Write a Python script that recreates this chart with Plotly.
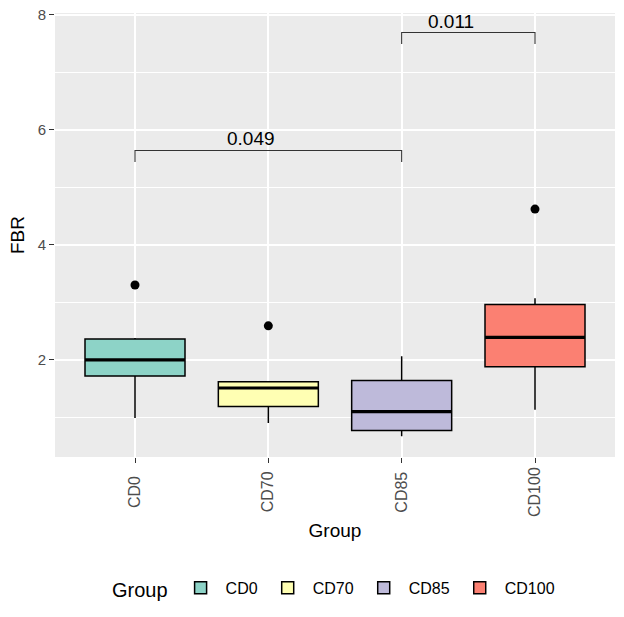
import plotly.graph_objects as go

# ---- data ----
groups = ["CD0", "CD70", "CD85", "CD100"]
q1 = [1.72, 1.19, 0.77, 1.88]
median = [2.00, 1.51, 1.10, 2.39]
q3 = [2.36, 1.62, 1.64, 2.96]
lower_whisker = [0.99, 0.90, 0.67, 1.13]
upper_whisker = [2.38, 1.62, 2.06, 3.07]
outlier_groups = ["CD0", "CD70", "CD100"]
outlier_values = [3.30, 2.59, 4.62]
fill_colors = ["#8DD3C7", "#FFFFB3", "#BEBADA", "#FB8072"]
y_ticks = [2, 4, 6, 8]

# significance comparisons: (group a, group b, bracket height, p label)
comp_a = ["CD0", "CD85"]
comp_b = ["CD85", "CD100"]
comp_y = [5.64, 7.69]
comp_label = ["0.049", "0.011"]

# ---- styling ----
FONT = "Liberation Sans"
BOX_W = 0.75
TICK_DROP = 0.20
pos = {g: i for i, g in enumerate(groups)}

fig = go.Figure()

for i, g in enumerate(groups):
    fig.add_trace(go.Box(
        x=[i], q1=[q1[i]], median=[median[i]], q3=[q3[i]],
        lowerfence=[lower_whisker[i]], upperfence=[upper_whisker[i]],
        name=g, legendgroup=g,
        fillcolor=fill_colors[i],
        line=dict(color="black", width=1.5),
        whiskerwidth=0, width=BOX_W, boxpoints=False,
        hoverinfo="skip",
    ))

# thick median lines (ggplot style)
for i, g in enumerate(groups):
    fig.add_trace(go.Scatter(
        x=[i - BOX_W / 2, i + BOX_W / 2], y=[median[i], median[i]],
        mode="lines", line=dict(color="black", width=3.2),
        showlegend=False, hoverinfo="skip",
    ))

# outliers
fig.add_trace(go.Scatter(
    x=[pos[g] for g in outlier_groups], y=outlier_values,
    mode="markers", marker=dict(color="black", size=9),
    showlegend=False, hoverinfo="skip",
))

# significance brackets
for a, b, yb, lab in zip(comp_a, comp_b, comp_y, comp_label):
    xa, xb = pos[a], pos[b]
    fig.add_trace(go.Scatter(
        x=[xa, xa, xb, xb], y=[yb - TICK_DROP, yb, yb, yb - TICK_DROP],
        mode="lines", line=dict(color="#333333", width=1.1),
        showlegend=False, hoverinfo="skip",
    ))
    fig.add_annotation(
        x=(xa + xb) / 2 - 0.13, y=yb + 0.2, text=lab, showarrow=False,
        xanchor="center", yanchor="middle",
        font=dict(family=FONT, size=19, color="black"),
    )

# rotated category labels, centred under each tick (ggplot angle=90 style)
for i, g in enumerate(groups):
    fig.add_annotation(
        x=i, xref="x", y=-0.0788, yref="paper", text=g, showarrow=False,
        textangle=-90, xanchor="center", yanchor="middle",
        font=dict(family=FONT, size=16, color="#4D4D4D"),
    )

fig.update_layout(
    width=624, height=617,
    margin=dict(l=55, r=9, t=13, b=160, autoexpand=False),
    paper_bgcolor="white", plot_bgcolor="#EBEBEB",
    boxmode="overlay",
    font=dict(family=FONT, size=15, color="#4D4D4D"),
    showlegend=True,
    legend=dict(
        orientation="h", x=0.5, xanchor="center", y=-0.297, yanchor="middle",
        title=dict(text="Group", font=dict(family=FONT, size=20, color="black")),
        font=dict(family=FONT, size=16, color="black"),
        bgcolor="rgba(0,0,0,0)", itemwidth=40,
    ),
)

fig.update_xaxes(
    range=[-0.6, 3.6], automargin=False,
    tickmode="array", tickvals=list(range(len(groups))), ticktext=groups,
    showticklabels=False,
    ticks="outside", ticklen=5, tickcolor="#333333", tickwidth=1.2,
    showgrid=True, gridcolor="white", gridwidth=1.6,
    zeroline=False, showline=False,
    title=dict(text="Group", font=dict(family=FONT, size=19, color="black"), standoff=61),
)

fig.update_yaxes(
    range=[0.31, 8.03], automargin=False,
    tickmode="array", tickvals=y_ticks,
    tickfont=dict(family=FONT, size=15, color="#4D4D4D"),
    ticklabeloverflow="allow",
    ticks="outside", ticklen=5, tickcolor="#333333", tickwidth=1.2,
    showgrid=True, gridcolor="white", gridwidth=1.6,
    minor=dict(tickvals=[1, 3, 5, 7], showgrid=True, gridcolor="white", gridwidth=0.8, ticks=""),
    zeroline=False, showline=False,
    title=dict(text="FBR", font=dict(family=FONT, size=19, color="black"), standoff=8),
)

fig.write_html(
    "out.html",
    config={"displayModeBar": False},
    post_script="document.body.style.margin='0';",
)
